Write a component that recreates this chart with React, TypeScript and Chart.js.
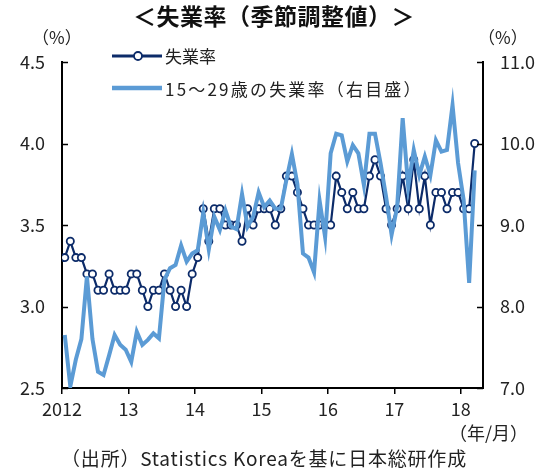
import React, { useEffect, useRef } from 'react';
import { Chart, registerables } from 'chart.js';
Chart.register(...registerables);

const FONT = '"Noto Sans CJK JP", "Noto Sans", sans-serif';

// x-axis year labels (tick at each January)
const yearLabels = ['2012', '13', '14', '15', '16', '17', '18'];
const totalMonths = 76; // Jan 2012 .. Apr 2018 slots

// 失業率 (left axis, %)
const unemp2012 = [3.3, 3.4, 3.3, 3.3, 3.2, 3.2, 3.1, 3.1, 3.2, 3.1, 3.1, 3.1];
const unemp2013 = [3.2, 3.2, 3.1, 3.0, 3.1, 3.1, 3.2, 3.1, 3.0, 3.1, 3.0, 3.2];
const unemp2014 = [3.3, 3.6, 3.4, 3.6, 3.6, 3.5, 3.5, 3.5, 3.4, 3.6, 3.5, 3.6];
const unemp2015 = [3.6, 3.6, 3.5, 3.6, 3.8, 3.8, 3.7, 3.6, 3.5, 3.5, 3.5, 3.5];
const unemp2016 = [3.5, 3.8, 3.7, 3.6, 3.7, 3.6, 3.6, 3.8, 3.9, 3.8, 3.6, 3.5];
const unemp2017 = [3.6, 3.8, 3.6, 3.9, 3.6, 3.8, 3.5, 3.7, 3.7, 3.6, 3.7, 3.7];
const unemp2018 = [3.6, 3.6, 4.0];

// 15～29歳の失業率 (right axis, %)
const youth2012 = [7.65, 7.02, 7.35, 7.6, 8.37, 7.6, 7.2, 7.16, 7.4, 7.65, 7.53, 7.47];
const youth2013 = [7.32, 7.69, 7.53, 7.59, 7.67, 7.61, 8.33, 8.47, 8.51, 8.75, 8.55, 8.65];
const youth2014 = [8.69, 9.15, 8.7, 9.1, 8.94, 9.18, 8.98, 8.95, 9.38, 8.98, 9.1, 9.4];
const youth2015 = [9.22, 9.3, 9.2, 9.2, 9.55, 9.87, 9.5, 8.65, 8.6, 8.42, 9.3, 8.85];
const youth2016 = [9.88, 10.12, 10.1, 9.78, 9.98, 9.88, 9.49, 10.12, 10.12, 9.76, 9.35, 8.88];
const youth2017 = [9.22, 10.31, 9.47, 9.92, 9.61, 9.84, 9.61, 10.04, 9.9, 9.92, 10.47, 9.76];
const youth2018 = [9.31, 8.29, 9.67];

const NAVY = '#0c2b69';
const LIGHT = '#5b9bd5';

const inwardTicks = {
  id: 'inwardTicks',
  afterDatasetsDraw(chart: any) {
    const ctx = chart.ctx;
    const { left, right } = chart.chartArea;
    ctx.save();
    ctx.strokeStyle = '#000';
    ctx.lineWidth = 1.5;
    const ys = chart.scales.y;
    ys.ticks.forEach((t: any) => {
      const py = Math.round(ys.getPixelForValue(t.value)) + 0.5;
      ctx.beginPath();
      ctx.moveTo(left, py);
      ctx.lineTo(left + 6, py);
      ctx.stroke();
    });
    const y1 = chart.scales.y1;
    y1.ticks.forEach((t: any) => {
      const py = Math.round(y1.getPixelForValue(t.value)) + 0.5;
      ctx.beginPath();
      ctx.moveTo(right, py);
      ctx.lineTo(right - 6, py);
      ctx.stroke();
    });
    ctx.restore();
  },
};

export default function App() {
  const ref = useRef<HTMLCanvasElement>(null);
  useEffect(() => {
    if (!ref.current) return;
    const unemp = [...unemp2012, ...unemp2013, ...unemp2014, ...unemp2015, ...unemp2016, ...unemp2017, ...unemp2018]
      .map((v, i) => ({ x: i + 0.5, y: v }));
    const youth = [...youth2012, ...youth2013, ...youth2014, ...youth2015, ...youth2016, ...youth2017, ...youth2018]
      .map((v, i) => ({ x: i + 0.5, y: v }));
    const tickFont = { family: FONT, size: 18 };
    const chart = new Chart(ref.current, {
      type: 'line',
      data: {
        datasets: [
          {
            label: '15～29歳の失業率(右目盛)',
            data: youth,
            yAxisID: 'y1',
            borderColor: LIGHT,
            borderWidth: 4,
            pointRadius: 0,
            tension: 0,
            fill: false,
          },
          {
            label: '失業率',
            data: unemp,
            yAxisID: 'y',
            borderColor: NAVY,
            borderWidth: 2.2,
            pointRadius: 3.6,
            pointBorderWidth: 1.8,
            pointBackgroundColor: '#fff',
            pointBorderColor: NAVY,
            tension: 0,
            fill: false,
          },
        ],
      },
      options: {
        animation: false,
        responsive: false,
        devicePixelRatio: 1,
        layout: { padding: { top: 62, left: 0, right: 0, bottom: 0 } },
        plugins: { legend: { display: false }, tooltip: { enabled: false } },
        scales: {
          x: {
            type: 'linear',
            min: 0,
            max: totalMonths,
            afterBuildTicks: (s: any) => {
              s.ticks = yearLabels.map((_, k) => ({ value: k * 12 }));
            },
            afterFit: (s: any) => { s.height = 472 - 388; },
            ticks: {
              autoSkip: false,
              maxRotation: 0,
              padding: 4,
              color: '#222',
              font: tickFont,
              callback: (v: any) => yearLabels[Math.round(Number(v) / 12)],
            },
            grid: { drawOnChartArea: false, drawTicks: true, tickLength: 6, color: '#000', lineWidth: 1.5 },
            border: { display: true, color: '#000', width: 2 },
          },
          y: {
            type: 'linear',
            position: 'left',
            min: 2.5,
            max: 4.5,
            afterFit: (s: any) => { s.width = 62; },
            ticks: { stepSize: 0.5, padding: 17, color: '#222', font: tickFont, callback: (v: any) => Number(v).toFixed(1) },
            grid: { drawOnChartArea: false, drawTicks: false },
            border: { display: true, color: '#000', width: 2 },
          },
          y1: {
            type: 'linear',
            position: 'right',
            min: 7,
            max: 11,
            afterFit: (s: any) => { s.width = 546 - 483; },
            ticks: { stepSize: 1, padding: 17, color: '#222', font: tickFont, callback: (v: any) => Number(v).toFixed(1) },
            grid: { drawOnChartArea: false, drawTicks: false },
            border: { display: true, color: '#000', width: 2 },
          },
        },
      },
      plugins: [inwardTicks],
    } as any);
    return () => chart.destroy();
  }, []);

  const txt: React.CSSProperties = { position: 'absolute', fontFamily: FONT, color: '#222', whiteSpace: 'nowrap', lineHeight: 1 };
  return (
    <div style={{ position: 'fixed', left: 0, top: 0, width: 546, height: 472, background: '#fff', overflow: 'hidden' }}>
      <canvas ref={ref} width={546} height={472} style={{ position: 'absolute', left: 0, top: 0, width: 546, height: 472 }} />
      <div style={{ ...txt, left: 0, width: 548, top: 4, textAlign: 'center', fontSize: 23, fontWeight: 700, color: '#111', letterSpacing: 0.5 }}>＜失業率（季節調整値）＞</div>
      <div style={{ ...txt, left: 32, top: 28, fontSize: 17 }}>（%）</div>
      <div style={{ ...txt, left: 478, top: 28, fontSize: 17 }}>（%）</div>
      <svg style={{ position: 'absolute', left: 110, top: 45, width: 56, height: 56 }} width={56} height={56}>
        <line x1={2} y1={11} x2={52} y2={11} stroke={NAVY} strokeWidth={3} />
        <circle cx={28} cy={11} r={4} fill="#fff" stroke={NAVY} strokeWidth={1.8} />
        <line x1={2} y1={43} x2={52} y2={43} stroke={LIGHT} strokeWidth={4.5} />
      </svg>
      <div style={{ ...txt, left: 165, top: 47, fontSize: 17 }}>失業率</div>
      <div style={{ ...txt, left: 165, top: 80, fontSize: 17, letterSpacing: 2.2 }}>15～29歳の失業率（右目盛）</div>
      <div style={{ ...txt, left: 449, top: 423, fontSize: 18 }}>（年/月）</div>
      <div style={{ ...txt, left: 0, width: 528, top: 448, textAlign: 'center', fontSize: 19, letterSpacing: 0.8 }}>（出所）Statistics Koreaを基に日本総研作成</div>
    </div>
  );
}
